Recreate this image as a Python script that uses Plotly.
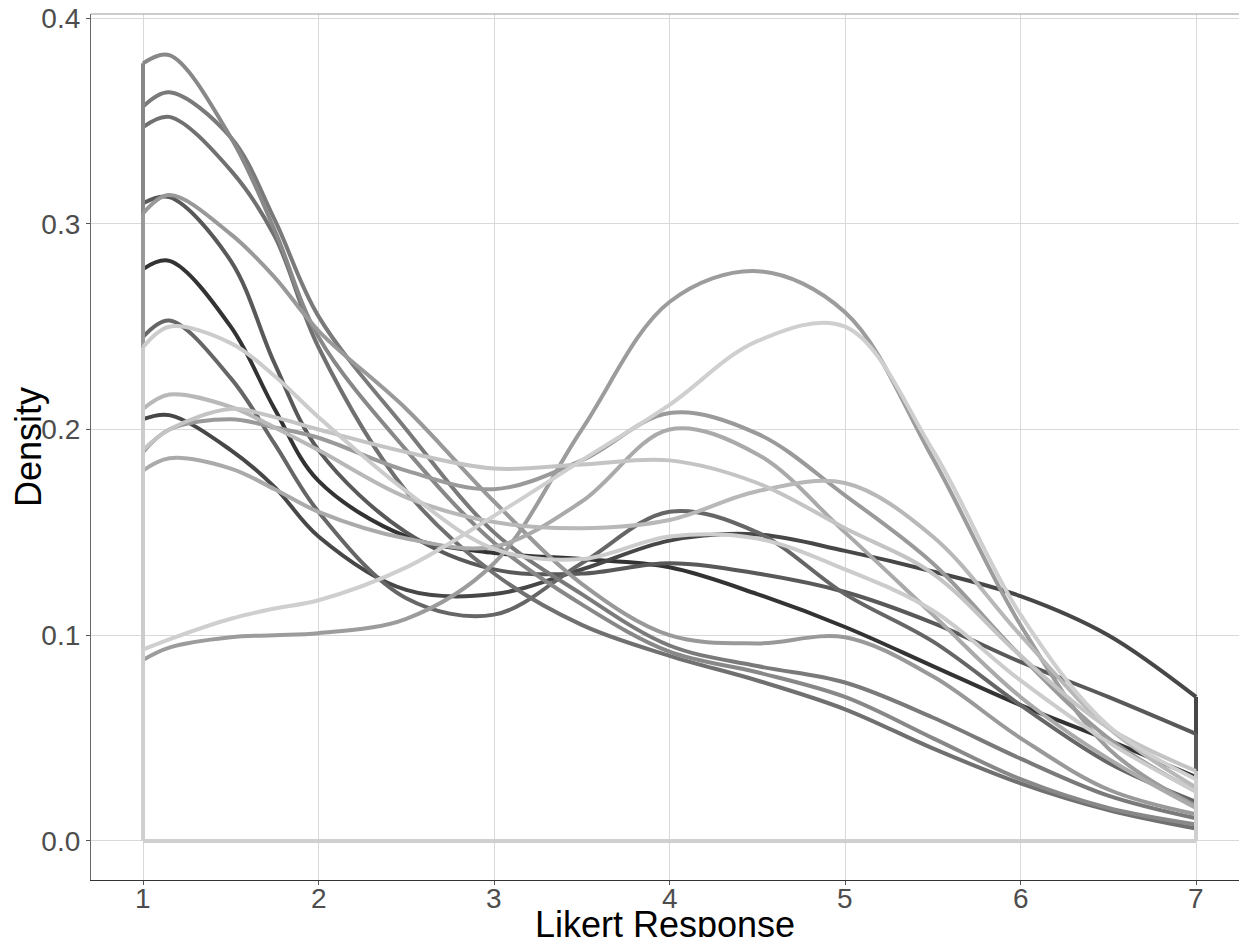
import plotly.graph_objects as go

# Likert response grid at which densities were read
x_grid = [1, 1.15, 1.5, 1.75, 2, 2.5, 3, 3.5, 4, 4.5, 5, 5.5, 6, 6.5, 7]

# Density curves, ordered dark -> light
dens_F = [0.278, 0.282, 0.250, 0.210, 0.175, 0.148, 0.140, 0.137, 0.133, 0.120, 0.104, 0.085, 0.066, 0.049, 0.031]
dens_J = [0.205, 0.207, 0.190, 0.172, 0.148, 0.122, 0.120, 0.132, 0.146, 0.149, 0.141, 0.131, 0.119, 0.100, 0.070]
dens_E = [0.310, 0.313, 0.282, 0.232, 0.190, 0.150, 0.132, 0.130, 0.135, 0.130, 0.121, 0.106, 0.087, 0.070, 0.052]
dens_G = [0.245, 0.253, 0.225, 0.193, 0.160, 0.118, 0.110, 0.135, 0.160, 0.150, 0.120, 0.097, 0.066, 0.038, 0.019]
dens_C = [0.347, 0.352, 0.326, 0.294, 0.240, 0.170, 0.130, 0.105, 0.090, 0.078, 0.064, 0.045, 0.028, 0.015, 0.006]
dens_B = [0.357, 0.364, 0.342, 0.302, 0.255, 0.200, 0.150, 0.120, 0.095, 0.085, 0.077, 0.060, 0.040, 0.022, 0.011]
dens_A = [0.378, 0.382, 0.342, 0.297, 0.245, 0.190, 0.145, 0.115, 0.092, 0.082, 0.070, 0.050, 0.030, 0.016, 0.008]
dens_D = [0.305, 0.314, 0.295, 0.274, 0.248, 0.210, 0.165, 0.125, 0.100, 0.096, 0.099, 0.080, 0.050, 0.025, 0.013]
dens_L = [0.189, 0.200, 0.205, 0.201, 0.196, 0.180, 0.171, 0.185, 0.208, 0.198, 0.168, 0.135, 0.090, 0.050, 0.024]
dens_M2 = [0.088, 0.094, 0.099, 0.100, 0.101, 0.108, 0.135, 0.200, 0.262, 0.277, 0.257, 0.186, 0.105, 0.045, 0.017]
dens_M = [0.180, 0.186, 0.181, 0.171, 0.160, 0.147, 0.143, 0.165, 0.200, 0.188, 0.150, 0.110, 0.070, 0.040, 0.016]
dens_I = [0.210, 0.217, 0.211, 0.201, 0.190, 0.167, 0.155, 0.152, 0.156, 0.170, 0.174, 0.148, 0.100, 0.055, 0.026]
dens_K = [0.190, 0.200, 0.210, 0.206, 0.200, 0.189, 0.181, 0.183, 0.185, 0.174, 0.152, 0.130, 0.090, 0.055, 0.034]
dens_H = [0.240, 0.250, 0.242, 0.226, 0.206, 0.170, 0.142, 0.137, 0.148, 0.147, 0.132, 0.112, 0.078, 0.048, 0.024]
dens_N = [0.093, 0.098, 0.108, 0.113, 0.117, 0.133, 0.158, 0.185, 0.212, 0.243, 0.250, 0.190, 0.110, 0.056, 0.030]

series = [dens_F, dens_J, dens_E, dens_G, dens_C, dens_B, dens_A, dens_D,
          dens_L, dens_M2, dens_M, dens_I, dens_K, dens_H, dens_N]
colors = ["#333333", "#474747", "#595959", "#666666", "#707070", "#7a7a7a", "#888888", "#999999",
          "#9a9a9a", "#9c9c9c", "#aaaaaa", "#b8b8b8", "#c4c4c4", "#cccccc", "#cfcfcf"]

x_ticks = [1, 2, 3, 4, 5, 6, 7]
y_ticks = [0.0, 0.1, 0.2, 0.3, 0.4]
y_labels = ["0.0", "0.1", "0.2", "0.3", "0.4"]

fig = go.Figure()
lw = 4
for ys, col in zip(series, colors):
    x0, x1 = x_grid[0], x_grid[-1]
    # closed outline of the density polygon: edges at both ends and baseline
    fig.add_trace(go.Scatter(
        x=[x0, x0, None, x1, x1, None, x0, x1],
        y=[0, ys[0], None, ys[-1], 0, None, 0, 0],
        mode="lines", line=dict(color=col, width=lw), hoverinfo="skip", showlegend=False))
    fig.add_trace(go.Scatter(
        x=x_grid, y=ys, mode="lines",
        line=dict(color=col, width=lw, shape="spline", smoothing=1.0),
        showlegend=False))

font_family = "Liberation Sans, Arial, sans-serif"
axis_font = dict(family=font_family, size=28, color="#4d4d4d")

annotations = [
    dict(text=str(v), xref="x", yref="paper", x=v, y=0, yshift=-18,
         xanchor="center", yanchor="middle", showarrow=False, font=axis_font)
    for v in x_ticks
]
annotations += [
    dict(text="Likert Response", xref="paper", yref="paper", x=0.5, y=0,
         yshift=-44, yanchor="middle", xanchor="center", showarrow=False,
         font=dict(family=font_family, size=36, color="black")),
    dict(text="Density", xref="paper", yref="paper", x=0, y=0.5,
         xshift=-63, xanchor="center", yanchor="middle", textangle=-90, showarrow=False,
         font=dict(family=font_family, size=36, color="black")),
]

fig.update_layout(
    width=1231, height=929,
    margin=dict(l=83, r=0, t=6, b=57),
    paper_bgcolor="white", plot_bgcolor="white",
    xaxis=dict(range=[0.7037, 7.245], tickvals=x_ticks, showticklabels=False,
               automargin=False,
               showgrid=True, gridcolor="#d9d9d9", gridwidth=1, zeroline=False,
               showline=True, linecolor="#333333", linewidth=1.2,
               ticks="outside", ticklen=4, tickcolor="#555555"),
    yaxis=dict(range=[-0.019, 0.402], tickvals=y_ticks, ticktext=y_labels,
               automargin=False, ticklabeloverflow="allow",
               showgrid=True, gridcolor="#d9d9d9", gridwidth=1, zeroline=False,
               showline=True, linecolor="#666666", linewidth=1.2,
               ticks="outside", ticklen=4, tickcolor="#555555", tickfont=axis_font),
    shapes=[dict(type="line", xref="paper", yref="paper", x0=0, x1=1, y0=1, y1=1,
                 line=dict(color="#999999", width=1.2))],
    annotations=annotations,
)

fig.write_html("out.html")
